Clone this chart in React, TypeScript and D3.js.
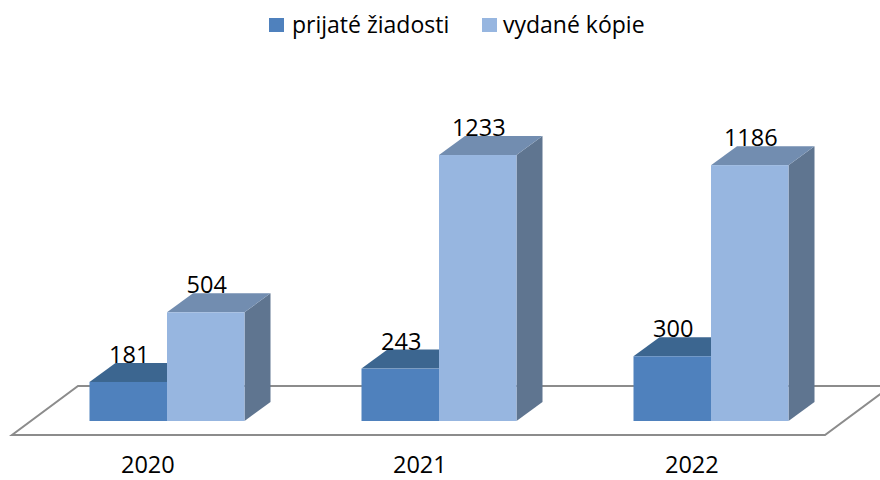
import React from "react";
import * as d3 from "d3";

const categories = ["2020", "2021", "2022"];
const seriesNames = ["prijaté žiadosti", "vydané kópie"];
const received = [181, 243, 300];
const issued = [504, 1233, 1186];

const W = 880;
const H = 480;
const FONT = "'Open Sans', 'Liberation Sans', Arial, sans-serif";

const colors = [
  { front: "#4F81BD", top: "#3C6690", side: "#35587D" },
  { front: "#97B6E0", top: "#728DB0", side: "#5F7590" },
];

export default function App() {
  const depthX = 26;
  const depthY = 19;
  const base = 421;

  const x = d3.scaleBand<string>().domain(categories).range([31, 847]).paddingInner(0).paddingOuter(0);
  const sub = d3.scaleBand<string>().domain(seriesNames).range([-77.5, 77.5]).padding(0);
  const y = d3.scaleLinear().domain([0, 1400]).range([base, base - 302]);

  const seriesValues = [received, issued];

  const fwdY = 14;
  const fwdX = (fwdY * depthX) / depthY;
  const floorFrontY = base + fwdY;
  const floorBackY = floorFrontY - 49;
  const floorDX = 66;
  const floorLeft = 12;
  const floorRight = 825;
  const floorPts = [
    [floorLeft, floorFrontY],
    [floorRight, floorFrontY],
    [floorRight + floorDX, floorBackY],
    [floorLeft + floorDX, floorBackY],
  ];

  const bars: React.ReactNode[] = [];
  const labels: React.ReactNode[] = [];
  categories.forEach((c, ci) => {
    const center = (x(c) as number) + x.bandwidth() / 2;
    seriesNames.forEach((s, si) => {
      const v = seriesValues[si][ci];
      const x0 = center + (sub(s) as number);
      const x1 = x0 + sub.bandwidth();
      const yt = y(v);
      const col = colors[si];
      bars.push(
        <g key={`${c}-${s}`}>
          <polygon
            points={`${x1},${yt} ${x1 + depthX},${yt - depthY} ${x1 + depthX},${base - depthY} ${x1},${base}`}
            fill={col.side}
          />
          <polygon
            points={`${x0},${yt} ${x0 + depthX},${yt - depthY} ${x1 + depthX},${yt - depthY} ${x1},${yt}`}
            fill={col.top}
          />
          <rect x={x0} y={yt} width={x1 - x0} height={base - yt} fill={col.front} />
        </g>
      );
      labels.push(
        <text
          key={`l-${c}-${s}`}
          x={(x0 + x1) / 2 + 1}
          y={yt - depthY}
          textAnchor="middle"
          fontSize={23.5}
          fontFamily={FONT}
          fill="#000"
        >
          {v}
        </text>
      );
    });
  });

  return (
    <svg width={W} height={H} style={{ position: "absolute", left: 0, top: 0, background: "#fff" }}>
      <polygon
        points={floorPts.map((p) => p.join(",")).join(" ")}
        fill="#fff"
        stroke="#8C8C8C"
        strokeWidth={2}
      />
      {bars}
      {labels}
      {categories.map((c) => (
        <text
          key={`cat-${c}`}
          x={(x(c) as number) + x.bandwidth() / 2 - fwdX}
          y={473}
          textAnchor="middle"
          fontSize={23.5}
          fontFamily={FONT}
          fill="#000"
        >
          {c}
        </text>
      ))}
      <g>
        <rect x={269} y={18} width={15} height={14} fill={colors[0].front} />
        <text x={292} y={33} fontSize={23} fontFamily={FONT} fill="#000">
          {seriesNames[0]}
        </text>
        <rect x={482} y={18} width={15} height={14} fill={colors[1].front} />
        <text x={503} y={33} fontSize={23} fontFamily={FONT} fill="#000">
          {seriesNames[1]}
        </text>
      </g>
    </svg>
  );
}
